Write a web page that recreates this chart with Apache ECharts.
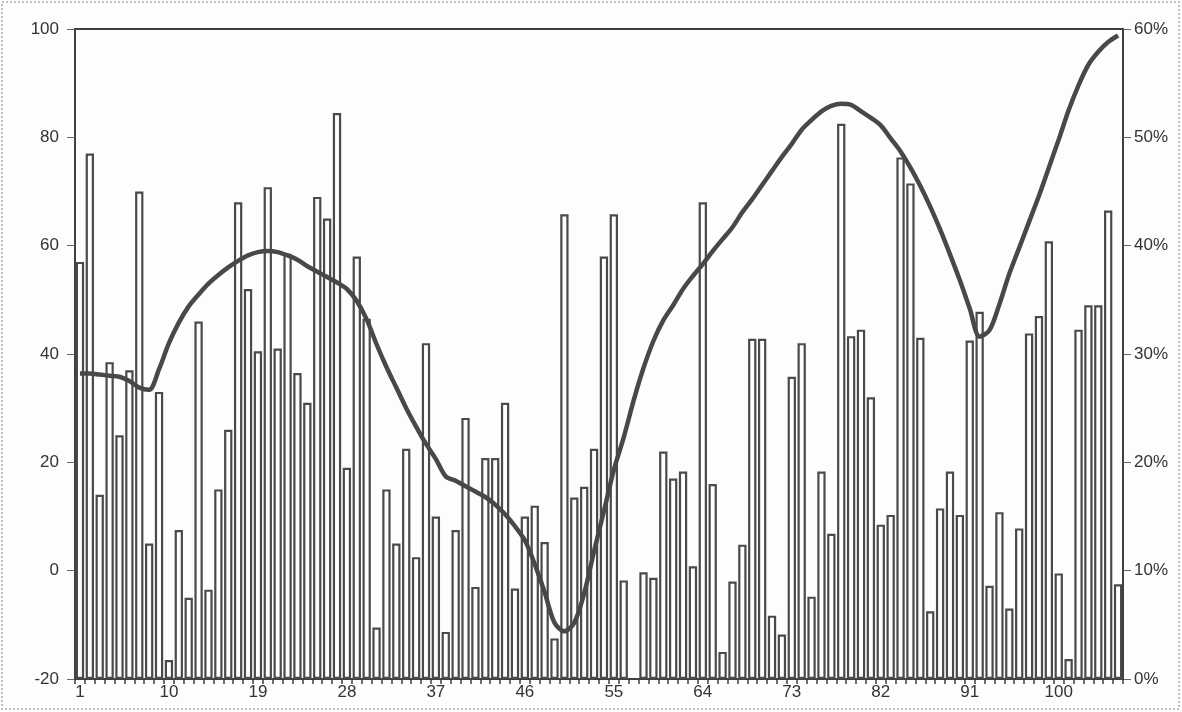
<!DOCTYPE html>
<html>
<head>
<meta charset="utf-8">
<script src="https://cdn.jsdelivr.net/npm/echarts@6/dist/echarts.min.js"></script>
<style>
html,body{margin:0;padding:0;background:#fdfdfc;}
#chart{width:1182px;height:712px;}
</style>
</head>
<body>
<div id="chart"></div>
<script>
// Categories 1..106
const categories = [];
for (let i = 1; i <= 106; i++) categories.push(String(i));

// Bar values (left axis, -20..100)
const barValues = [
  57, 77, 14, 38.5, 25, 37, 70, 5, 33, -16.5,
  7.5, -5, 46, -3.5, 15, 26, 68, 52, 40.5, 70.8,
  41, 58.5, 36.5, 31, 69, 65, 84.5, 19, 58, 46.5,
  -10.5, 15, 5, 22.5, 2.5, 42, 10, -11.3, 7.5, 28.2,
  -3, 20.8, 20.8, 31, -3.3, 10, 12, 5.3, -12.5, 65.8,
  13.5, 15.5, 22.5, 58, 65.8, -1.8, null, -0.3, -1.3, 22,
  17, 18.3, 0.8, 68, 16, -15, -2, 4.8, 42.8, 42.8,
  -8.3, -11.8, 35.8, 42, -4.8, 18.3, 6.8, 82.5, 43.3, 44.5,
  32, 8.5, 10.3, 76.3, 71.5, 43, -7.5, 11.5, 18.3, 10.3,
  42.5, 47.8, -2.8, 10.8, -7, 7.8, 43.8, 47, 60.8, -0.5,
  -16.3, 44.5, 49, 49, 66.5, -2.5
];

// Line values (right axis, %)
const lineValues = [
  28.2, 28.2, 28.1, 28.0, 27.9, 27.5, 26.9, 26.7, 28.6, 31.0,
  32.9, 34.4, 35.5, 36.5, 37.3, 38.0, 38.6, 39.1, 39.4, 39.5,
  39.4, 39.1, 38.7, 38.1, 37.6, 37.1, 36.6, 36.0, 34.9, 33.2,
  30.9, 28.8, 26.9, 25.0, 23.3, 21.7, 20.3, 18.7, 18.3, 17.8,
  17.3, 16.8, 16.1, 15.2, 14.1, 12.8, 10.6, 8.0, 5.2, 4.4,
  5.2, 7.9, 11.8, 15.5, 19.3, 22.3, 25.7, 28.7, 31.2, 33.1,
  34.5, 36.0, 37.2, 38.3, 39.5, 40.6, 41.7, 43.1, 44.3, 45.6,
  46.9, 48.2, 49.4, 50.7, 51.6, 52.4, 52.9, 53.1, 53.0, 52.4,
  51.8, 51.1, 49.9, 48.7, 47.2, 45.5, 43.6, 41.5, 39.2, 36.8,
  34.2, 31.6, 32.2, 34.6, 37.4, 39.8, 42.2, 44.6, 47.2, 49.8,
  52.5, 54.8, 56.7, 57.9, 58.8, 59.4
];

// Tick label settings
const leftMin = -20, leftMax = 100, leftStep = 20;
const rightMin = 0, rightMax = 60, rightStep = 10;

const chart = echarts.init(document.getElementById('chart'), null, {renderer: 'canvas'});
const axisColor = '#3f3f3f';
const labelStyle = {color: '#333', fontFamily: 'Liberation Sans, Arial, sans-serif', fontSize: 17};

chart.setOption({
  animation: false,
  backgroundColor: '#fdfdfc',
  grid: {left: 75, right: 59, top: 29, bottom: 33, containLabel: false, show: true, borderColor: axisColor, borderWidth: 2, backgroundColor: 'transparent'},
  graphic: [{
    type: 'rect', shape: {x: 2, y: 2, width: 1177, height: 707},
    style: {fill: 'none', stroke: '#aaa', lineWidth: 1.5, lineDash: [2, 2]}, silent: true, z: -1
  }],
  xAxis: {
    type: 'category', data: categories, boundaryGap: true,
    axisLine: {show: true, onZero: false, lineStyle: {color: axisColor, width: 2}},
    axisTick: {show: true, interval: 0, length: 5, lineStyle: {color: axisColor, width: 1.5}},
    axisLabel: Object.assign({interval: 8, margin: 5}, labelStyle),
    splitLine: {show: false}
  },
  yAxis: [
    {
      type: 'value', min: leftMin, max: leftMax, interval: leftStep, position: 'left',
      axisLine: {show: true, lineStyle: {color: axisColor, width: 2}},
      axisTick: {show: true, length: 8, inside: false, lineStyle: {color: '#666', width: 1}},
      axisLabel: Object.assign({margin: 16}, labelStyle),
      splitLine: {show: false}
    },
    {
      type: 'value', min: rightMin, max: rightMax, interval: rightStep, position: 'right',
      axisLine: {show: true, lineStyle: {color: axisColor, width: 2}},
      axisTick: {show: true, length: 8, lineStyle: {color: '#666', width: 1}},
      axisLabel: Object.assign({margin: 11, formatter: '{value}%'}, labelStyle),
      splitLine: {show: false}
    },
    {
      // hidden axis so bars rise from the -20 baseline
      type: 'value', min: 0, max: leftMax - leftMin, show: false
    }
  ],
  series: [
    {
      type: 'bar', yAxisIndex: 2, barWidth: '84%',
      data: barValues.map(v => v === null ? null : v - leftMin),
      itemStyle: {color: '#ffffff', borderColor: '#4a4a4a', borderWidth: 2.2},
      z: 2
    },
    {
      type: 'line', yAxisIndex: 1, data: lineValues, smooth: 0.3, symbol: 'none',
      lineStyle: {color: '#484848', width: 4.5}, z: 3
    }
  ]
});
</script>
</body>
</html>
